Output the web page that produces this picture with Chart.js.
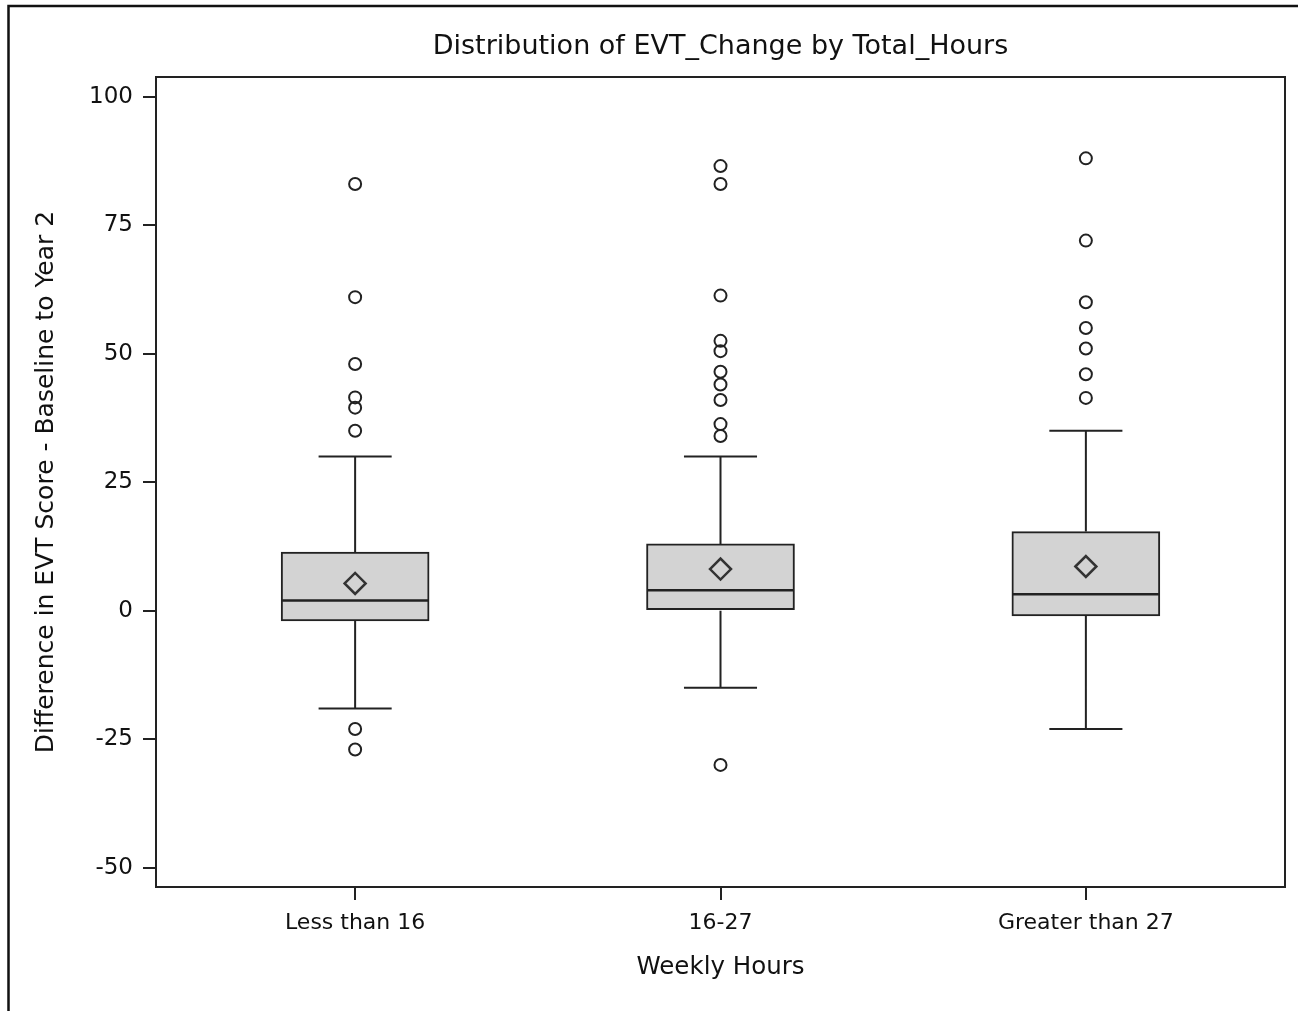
<!DOCTYPE html>
<html><head><meta charset="utf-8">
<script src="https://cdn.jsdelivr.net/npm/chart.js@4.4.1/dist/chart.umd.min.js"></script>
<style>html,body{margin:0;padding:0;background:#fff;overflow:hidden}#wrap{width:1298px;height:1011px;position:relative}</style>
</head><body><div id="wrap"><canvas id="c" width="1298" height="1011"></canvas></div>
<script>
// ---- data ----
const categories = ['Less than 16', '16-27', 'Greater than 27'];
const q1Values = [-2, 0, -1];
const medianValues = [2, 4, 3.2];
const q3Values = [11.4, 13, 15.4];
const whiskerLow = [-19, -15, -23];
const whiskerHigh = [30, 30, 35];
const meanValues = [5.3, 8.1, 8.6];
const outliersLess16 = [83, 61, 48, 41.5, 39.5, 35, -23, -27];
const outliers16to27 = [86.5, 83, 61.3, 52.5, 50.5, 46.5, 44, 41, 36.3, 34, -30];
const outliersOver27 = [88, 72, 60, 55, 51, 46, 41.4];
const yTickValues = [-50, -25, 0, 25, 50, 75, 100];

// ---- styling ----
const FONT = 'DejaVu Sans';
const INK = '#222';
const BOX_HALF = 0.2;
const CAP_HALF = 0.1;

const outlierGroups = [outliersLess16, outliers16to27, outliersOver27];
const boxData = categories.map((c, i) => ({x: i + 1, y: [q1Values[i], q3Values[i]]}));
const meanData = categories.map((c, i) => ({x: i + 1, y: meanValues[i]}));
const outlierData = [];
outlierGroups.forEach((g, i) => g.forEach(v => outlierData.push({x: i + 1, y: v})));
const whiskerData = [];
const medianData = [];
categories.forEach((c, i) => {
  const x = i + 1;
  whiskerData.push({x, y: q3Values[i]}, {x, y: whiskerHigh[i]}, {x, y: null});
  whiskerData.push({x, y: q1Values[i]}, {x, y: whiskerLow[i]}, {x, y: null});
  whiskerData.push({x: x - CAP_HALF, y: whiskerHigh[i]}, {x: x + CAP_HALF, y: whiskerHigh[i]}, {x, y: null});
  whiskerData.push({x: x - CAP_HALF, y: whiskerLow[i]}, {x: x + CAP_HALF, y: whiskerLow[i]}, {x, y: null});
  medianData.push({x: x - BOX_HALF, y: medianValues[i]}, {x: x + BOX_HALF, y: medianValues[i]}, {x, y: null});
});

const framePlugin = {
  id: 'frame',
  beforeDraw(chart) {
    const ctx = chart.ctx;
    ctx.save();
    ctx.fillStyle = '#fff';
    ctx.fillRect(0, 0, chart.width, chart.height);
    ctx.strokeStyle = '#111';
    ctx.lineWidth = 2.5;
    ctx.strokeRect(8.5, 6, chart.width + 20, chart.height + 20);
    ctx.restore();
  },
  afterDraw(chart) {
    const a = chart.chartArea, ctx = chart.ctx;
    ctx.save();
    ctx.strokeStyle = INK;
    ctx.lineWidth = 2;
    ctx.strokeRect(a.left, a.top, a.right - a.left, a.bottom - a.top);
    ctx.restore();
  }
};

new Chart(document.getElementById('c'), {
  type: 'scatter',
  data: {
    datasets: [
      {type: 'bar', data: boxData, backgroundColor: '#d3d3d3', borderColor: INK, borderWidth: 2,
       borderSkipped: false, barThickness: 148, order: 4},
      {type: 'line', data: whiskerData, borderColor: INK, borderWidth: 2, pointRadius: 0,
       spanGaps: false, fill: false, order: 3, borderCapStyle: 'butt'},
      {type: 'line', data: medianData, borderColor: INK, borderWidth: 2.5, pointRadius: 0,
       spanGaps: false, fill: false, order: 2, borderCapStyle: 'butt'},
      {type: 'scatter', data: meanData, pointStyle: 'rectRot', pointRadius: 10.5,
       pointBorderWidth: 2.5, pointBorderColor: '#333', pointBackgroundColor: 'rgba(0,0,0,0)', order: 1},
      {type: 'scatter', data: outlierData, pointStyle: 'circle', pointRadius: 6,
       pointBorderWidth: 2, pointBorderColor: '#222', pointBackgroundColor: 'rgba(0,0,0,0)', order: 1}
    ]
  },
  options: {
    responsive: false,
    animation: false,
    devicePixelRatio: 1,
    layout: {padding: {left: 0, right: 3, top: 0, bottom: 0}},
    plugins: {
      legend: {display: false},
      tooltip: {enabled: false},
      title: {
        display: true,
        fullSize: false,
        text: 'Distribution of EVT_Change by Total_Hours',
        color: '#111',
        font: {family: FONT, size: 27, weight: 'normal'},
        padding: {top: 30.5, bottom: 14.1}
      }
    },
    scales: {
      x: {
        type: 'linear', min: 0.455, max: 3.545, offset: false,
        afterBuildTicks: s => { s.ticks = categories.map((c, i) => ({value: i + 1})); },
        afterFit: s => { s.height = 124; },
        ticks: {
          callback: v => categories[Math.round(v) - 1] ?? '',
          font: {family: FONT, size: 22}, color: '#111', padding: 10,
          maxRotation: 0, autoSkip: false
        },
        grid: {offset: false, drawOnChartArea: false, drawTicks: true, tickLength: 13, color: INK, lineWidth: 2},
        border: {display: true, color: INK, width: 2},
        title: {display: true, text: 'Weekly Hours', color: '#111',
                font: {family: FONT, size: 24.5}, padding: {top: 0, bottom: 29}}
      },
      y: {
        type: 'linear', min: -53.75, max: 103.83,
        afterBuildTicks: s => { s.ticks = yTickValues.map(v => ({value: v})); },
        afterFit: s => { s.width = 156; },
        ticks: {font: {family: FONT, size: 23}, color: '#111', padding: 10},
        grid: {drawOnChartArea: false, drawTicks: true, tickLength: 13, color: INK, lineWidth: 2},
        border: {display: true, color: INK, width: 2},
        title: {display: true, text: 'Difference in EVT Score - Baseline to Year 2', color: '#111',
                font: {family: FONT, size: 25}, padding: {top: 31, bottom: 0}}
      }
    }
  },
  plugins: [framePlugin]
});
</script>
</body></html>
